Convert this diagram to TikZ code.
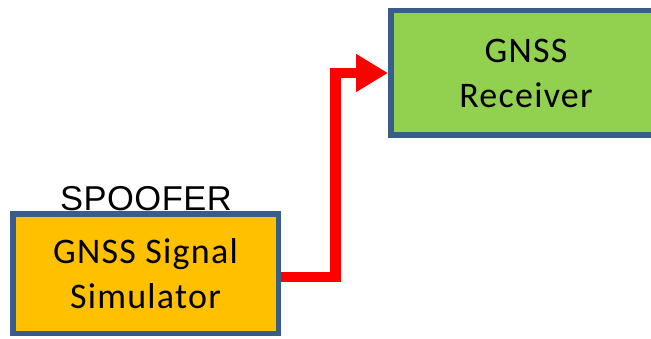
\documentclass[tikz,border=0pt]{standalone}
\usepackage{fontspec}
\setmainfont[LetterSpace=3.5]{Carlito}
\newfontfamily\labelfont[LetterSpace=1.5]{Liberation Sans}
\usetikzlibrary{arrows.meta}
\definecolor{boxline}{HTML}{385D8A}
\definecolor{simfill}{HTML}{FFC000}
\definecolor{rxfill}{HTML}{92D050}
\definecolor{sigred}{HTML}{FF0000}
\tikzset{
  block/.style={draw=boxline, line width=5.5pt, align=center, inner sep=0pt,
    font=\fontsize{36}{45}\selectfont},
  sig/.style={draw=sigred, line width=10.5pt, line join=miter,
    -{Triangle[length=32pt, width=36pt]}}
}
\newcommand\rxpad{\hspace*{129.5pt}}
\begin{document}
\begin{tikzpicture}[x=1pt, y=1pt]
  \useasboundingbox (0,0) rectangle (651,338);
  \clip (0,0) rectangle (651,338);
  % signal simulator (spoofer) block
  \node[block, fill=simfill, minimum width=265.5pt, minimum height=119.5pt,
    text depth=-8pt]
    (sim) at (145.5,64.5) {GNSS Signal\\Simulator};
  \node[anchor=base, inner sep=0pt, font=\labelfont\fontsize{34.5}{40}\selectfont]
    (spoofer) at (146,128) {SPOOFER};
  % receiver block, running off the right edge; its text padded to sit left
  \node[block, fill=rxfill, anchor=west, minimum width=400pt,
    minimum height=124.5pt, text depth=-2pt]
    (rx) at (388,265) {GNSS\rxpad\\Receiver\rxpad};
  % spoofed signal path
  \draw[sig] ([yshift=-3.5pt]sim.east) -- ++(54.5pt,0) |- (rx.west);
\end{tikzpicture}
\end{document}
